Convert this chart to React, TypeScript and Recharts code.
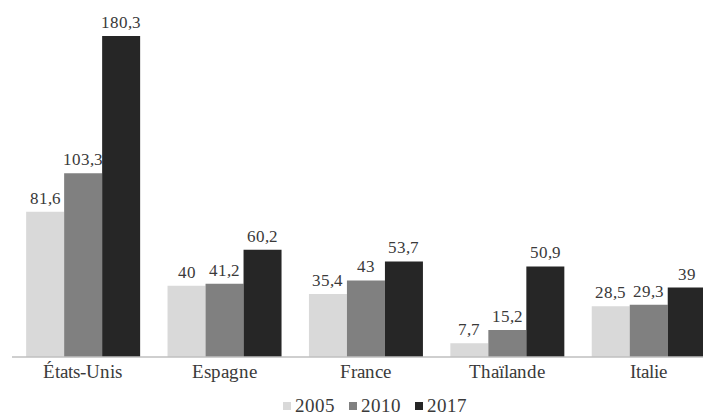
import React from 'react';
import { BarChart, Bar, XAxis, YAxis, LabelList, Legend } from 'recharts';

const countries = ['États-Unis', 'Espagne', 'France', 'Thaïlande', 'Italie'];
const v2005 = [81.6, 40, 35.4, 7.7, 28.5];
const v2010 = [103.3, 41.2, 43, 15.2, 29.3];
const v2017 = [180.3, 60.2, 53.7, 50.9, 39];

const seriesKeys = ['y2005', 'y2010', 'y2017'];
const seriesNames = ['2005', '2010', '2017'];
const seriesColors = ['#d9d9d9', '#808080', '#262626'];

const data = countries.map((name, i) => ({
  name,
  y2005: v2005[i],
  y2010: v2010[i],
  y2017: v2017[i],
}));

const TEXT = '#3a3a3a';
const SERIF = 'RefSerif, "Liberation Serif", Tinos, "Times New Roman", serif';

// force the serif face on every chart text
const css = `
@font-face { font-family: 'RefSerif'; src: local('Liberation Serif'), local('LiberationSerif'), local('Liberation Serif Regular'), local('LiberationSerif-Regular'); }
.chart-root, .chart-root text, .chart-root tspan, .chart-root div, .chart-root span { font-family: ${SERIF} !important; }
`;

// French decimal comma
const fmt = (v: any) => String(v).replace('.', ',');

const CustomLegend = () => (
  <div style={{ height: 32, paddingTop: 14, paddingLeft: 18, boxSizing: 'border-box', display: 'flex', justifyContent: 'center', fontFamily: SERIF, fontSize: 19, lineHeight: '20px', color: TEXT }}>
    {seriesNames.map((k, i) => (
      <span key={k} style={{ display: 'inline-flex', alignItems: 'center', marginRight: i < seriesNames.length - 1 ? 14 : 0 }}>
        <span style={{ display: 'inline-block', width: 8, height: 8, background: seriesColors[i], marginRight: 4 }} />
        {k}
      </span>
    ))}
  </div>
);

export default function App() {
  return (
    <div className="chart-root">
      <style>{css}</style>
      <BarChart
        width={703}
        height={407}
        data={data}
        margin={{ top: -7, right: -8, left: 4, bottom: 0 }}
        barCategoryGap="10%"
        barGap={0}
      >
        <XAxis
          dataKey="name"
          axisLine={{ stroke: '#bfbfbf', strokeWidth: 1.5 }}
          tickLine={false}
          height={26}
          interval={0}
          tick={{ fontFamily: SERIF, fontSize: 19, fill: TEXT }}
        />
        <YAxis hide domain={[0, 200]} />
        <Legend verticalAlign="bottom" content={<CustomLegend />} />
        {seriesKeys.map((k, i) => (
          <Bar key={k} dataKey={k} name={seriesNames[i]} fill={seriesColors[i]} isAnimationActive={false}>
            <LabelList
              dataKey={k}
              position="top"
              offset={8}
              formatter={fmt}
              style={{ fontFamily: SERIF, fontSize: 17, fill: TEXT }}
            />
          </Bar>
        ))}
      </BarChart>
    </div>
  );
}
